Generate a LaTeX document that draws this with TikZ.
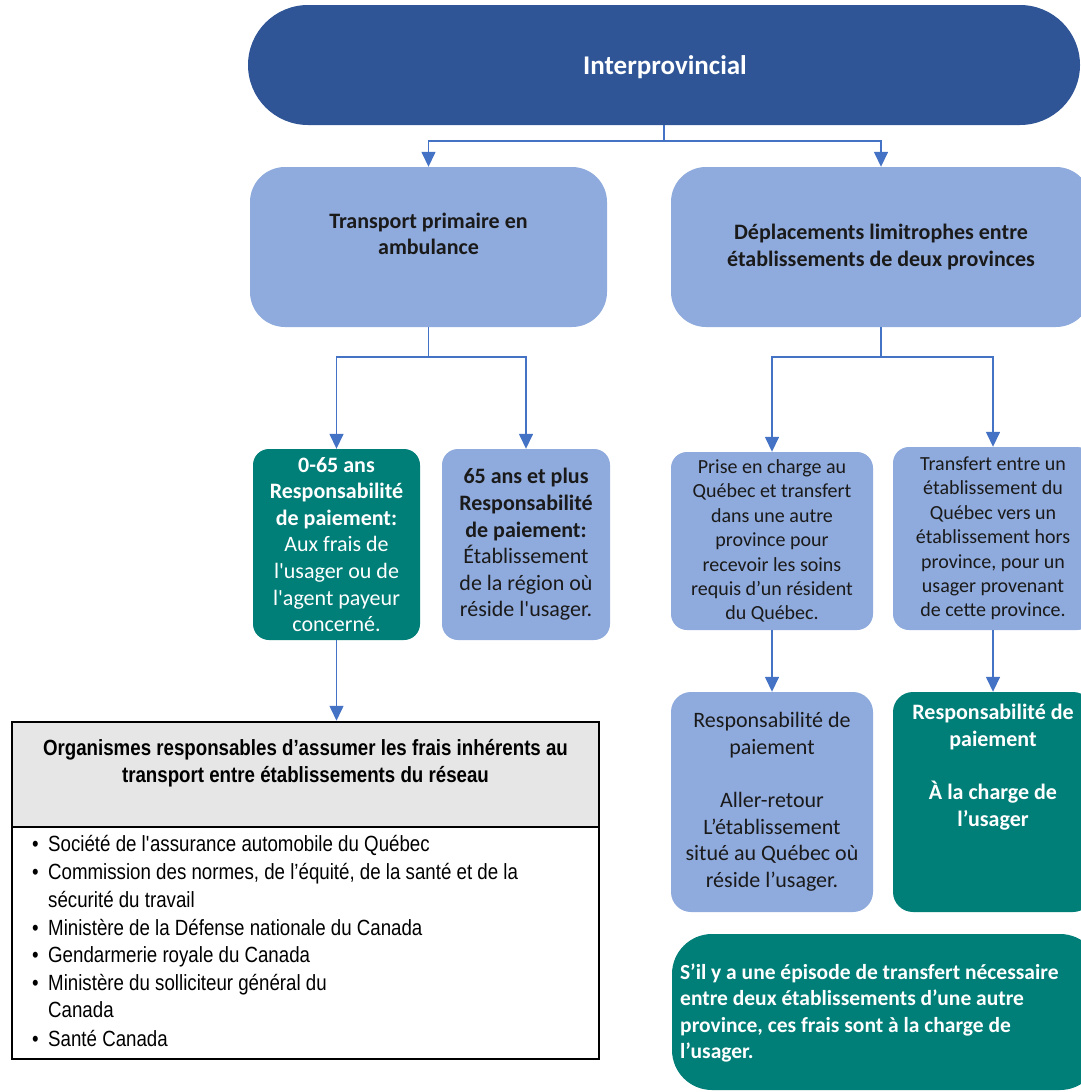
\documentclass[tikz,border=0pt]{standalone}
\usepackage{fontspec}
\setmainfont{Carlito}
\newfontfamily\listfont[FakeStretch=0.85]{Liberation Sans}
\usetikzlibrary{arrows.meta}
\definecolor{dblue}{HTML}{2F5597}
\definecolor{lblue}{HTML}{8FAADC}
\definecolor{tealg}{HTML}{007F78}
\definecolor{arrc}{HTML}{4472C4}
\definecolor{hgray}{HTML}{E6E6E6}
\definecolor{txtd}{HTML}{1A1A1A}
\newcommand\aps{\textquotesingle}
\begin{document}
\begin{tikzpicture}[x=1pt,y=-1pt,
  shape box/.style={rectangle, inner sep=0pt, align=center},
  lightbox/.style={shape box, fill=lblue, text=txtd},
  greenbox/.style={shape box, fill=tealg, text=white},
  fbig/.style={font=\fontsize{22}{26.6}\selectfont},
  fbigb/.style={font=\fontsize{22}{26.6}\selectfont\bfseries},
  fsmall/.style={font=\fontsize{20}{24.4}\selectfont},
  link/.style={draw=arrc, line width=1.5pt},
  arr/.style={link, -{Triangle[width=14pt,length=15pt]}}
]
\useasboundingbox (0,0) rectangle (1080,1092);

% top
\node[shape box, fill=dblue, text=white, minimum width=832, minimum height=120, rounded corners=60pt] (top) at (664,65) {};
\node[shape box, text=white, font=\fontsize{27}{31}\selectfont\bfseries] (topt) at (665,67) {Interprovincial};

% level 1
\node[lightbox, minimum width=357, minimum height=160, rounded corners=35pt] (box1) at (428.5,247) {};
\node[shape box, fbigb, text=txtd] (box1t) at (428.5,234) {Transport primaire en\\ambulance};
\node[lightbox, minimum width=420, minimum height=160, rounded corners=35pt, fbigb] (box2) at (881,247)
  {D\'eplacements limitrophes entre\\\'etablissements de deux provinces};

% level 2 left
\node[greenbox, minimum width=167, minimum height=191, rounded corners=16pt, fbig] (g1) at (336.5,544.5)
  {\textbf{0-65 ans}\\\textbf{Responsabilit\'e}\\\textbf{de paiement:}\\Aux frais de\\l\aps usager ou de\\l\aps agent payeur\\concern\'e.};
\node[lightbox, minimum width=168, minimum height=191, rounded corners=16pt, fbig] (b1) at (526,544.5)
  {\textbf{65 ans et plus}\\\textbf{Responsabilit\'e}\\\textbf{de paiement:}\\\'Etablissement\\de la r\'egion o\`u\\r\'eside l\aps usager.};

% level 2 right
\node[lightbox, minimum width=202, minimum height=178, rounded corners=16pt, fsmall] (p1) at (772,541)
  {Prise en charge au\\Qu\'ebec et transfert\\dans une autre\\province pour\\recevoir les soins\\requis d’un r\'esident\\du Qu\'ebec.};
\node[lightbox, minimum width=200, minimum height=183, rounded corners=16pt, fsmall] (t1) at (993,538.5)
  {Transfert entre un\\\'etablissement du\\Qu\'ebec vers un\\\'etablissement hors\\province, pour un\\usager provenant\\de cette province.};

% level 3 right
\node[lightbox, minimum width=202, minimum height=220, rounded corners=20pt, fbig] (p2) at (772,802)
  {Responsabilit\'e de\\paiement\\[26.6pt]Aller-retour\\L’\'etablissement\\situ\'e au Qu\'ebec o\`u\\r\'eside l’usager.};
\node[greenbox, minimum width=200, minimum height=220, rounded corners=20pt] (g2) at (993,802) {};
\node[shape box, text=white, fbigb] (g2t) at (993,767)
  {Responsabilit\'e de\\paiement\\[26.6pt]\`A la charge de\\l’usager};

% bottom green note
\node[greenbox, minimum width=428, minimum height=156, rounded corners=40pt] (g3) at (886,1012) {};
\node[shape box, text=white, align=left, anchor=west, font=\fontsize{21.5}{26.6}\selectfont\bfseries] (g3t) at (680,1013)
  {S’il y a une \'episode de transfert n\'ecessaire\\entre deux \'etablissements d’une autre\\province, ces frais sont \`a la charge de\\l’usager.};

% organisms box
\node[rectangle, draw=black, line width=2.5pt, fill=hgray, minimum width=587, minimum height=105, inner sep=0pt] (hdr) at (305.5,774.5) {};
\node[rectangle, draw=black, line width=2.5pt, fill=white, minimum width=587, minimum height=232, inner sep=0pt] (body) at (305.5,943) {};
\node[shape box, font=\listfont\bfseries\fontsize{22}{27}\selectfont] (hdrt) at (305.5,763.5)
  {Organismes responsables d’assumer les frais inh\'erents au\\transport entre \'etablissements du r\'eseau};

\tikzset{item/.style={anchor=base west, inner sep=0pt, font=\listfont\fontsize{22}{27}\selectfont}}
\node[item] (i1) at (32,851) {\makebox[16pt][l]{•}Soci\'et\'e de l\aps assurance automobile du Qu\'ebec};
\node[item] (i2) at (32,879) {\makebox[16pt][l]{•}Commission des normes, de l’\'equit\'e, de la sant\'e et de la};
\node[item] (i2b) at (32,907) {\makebox[16pt][l]{}s\'ecurit\'e du travail};
\node[item] (i3) at (32,935) {\makebox[16pt][l]{•}Minist\`ere de la D\'efense nationale du Canada};
\node[item] (i4) at (32,962) {\makebox[16pt][l]{•}Gendarmerie royale du Canada};
\node[item] (i5) at (32,990) {\makebox[16pt][l]{•}Minist\`ere du solliciteur g\'en\'eral du};
\node[item] (i5b) at (32,1017) {\makebox[16pt][l]{}Canada};
\node[item] (i6) at (32,1046) {\makebox[16pt][l]{•}Sant\'e Canada};

% connectors
\coordinate (j0) at (664,141);
\coordinate (j1) at (428.5,357);
\coordinate (j2) at (881,357);
\draw[link] (top.south) -- (j0);
\draw[arr] (j0) -| (box1.north);
\draw[arr] (j0) -| (box2.north);
\draw[link] (box1.south) -- (j1);
\draw[arr] (j1) -| (g1.north);
\draw[arr] (j1) -| (b1.north);
\draw[link] (box2.south) -- (j2);
\draw[arr] (j2) -| (p1.north);
\draw[arr] (j2) -| (t1.north);
\draw[arr] (p1.south) -- (p2.north);
\draw[arr] (t1.south) -- (g2.north);
\draw[arr] (g1.south) -- (g1.south |- hdr.north);
\end{tikzpicture}
\end{document}
